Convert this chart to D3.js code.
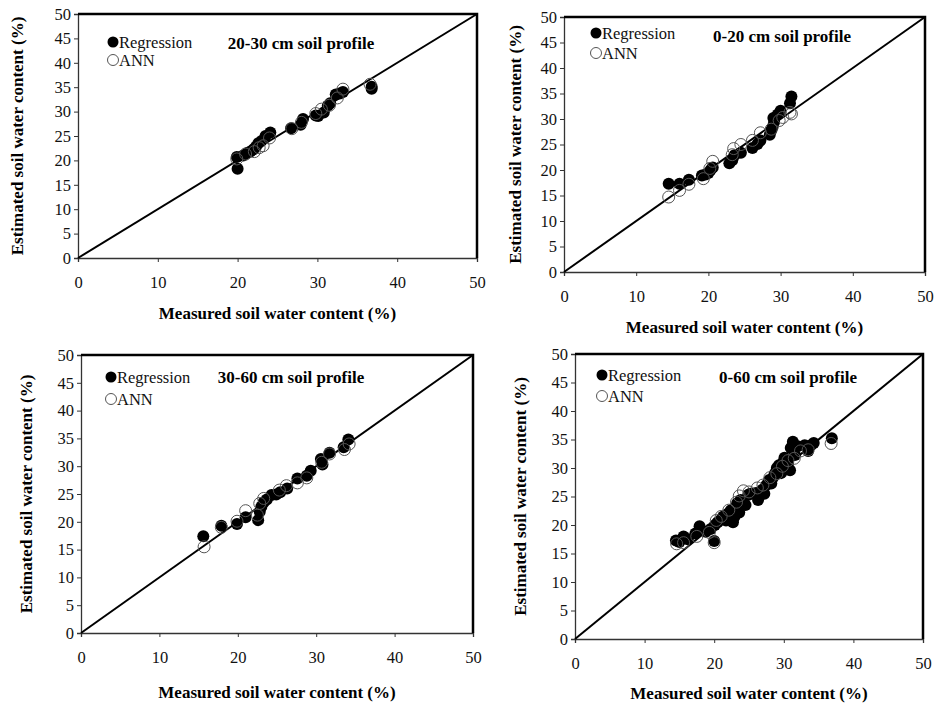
<!DOCTYPE html>
<html>
<head>
<meta charset="utf-8">
<script src="https://cdn.jsdelivr.net/npm/d3@7"></script>
<style>
  body { margin: 0; background: #fff; }
  svg { display: block; font-family: 'Liberation Serif', 'Times New Roman', serif; }
</style>
</head>
<body>
<svg id="chart" width="936" height="704"></svg>
<script>
// axis ticks (same for every panel)
const xTicks = [0, 10, 20, 30, 40, 50];
const yTicks = [0, 5, 10, 15, 20, 25, 30, 35, 40, 45, 50];
const seriesNames = ['Regression', 'ANN'];

// [measured, estimated] pairs
const regression_20_30 = [[19.9,20.7],[20.0,18.3],[20.7,21.0],[21.2,21.5],[21.6,21.8],[22.0,22.3],[22.3,22.8],
  [22.6,23.5],[23.0,24.0],[23.5,25.0],[24.1,25.7],[26.7,26.6],[27.9,27.3],[28.2,28.5],[29.8,29.2],[30.1,29.1],
  [30.8,29.8],[31.3,31.2],[31.6,31.7],[32.3,33.5],[32.8,33.7],[33.2,34.0],[36.8,34.7],[36.8,35.1]];
const ann_20_30 = [[19.9,20.3],[21.0,21.3],[22.1,21.8],[22.7,22.6],[23.2,23.0],[24.0,24.6],[26.8,26.5],
  [28.0,27.8],[29.8,29.6],[30.5,30.5],[31.5,31.3],[32.5,32.8],[33.2,34.6],[36.6,35.6]];

const regression_0_20 = [[14.5,17.3],[16.0,17.3],[17.3,18.1],[19.1,18.9],[19.6,19.1],[20.0,19.4],[20.3,20.0],
  [20.6,20.5],[22.9,21.3],[23.3,21.9],[23.6,22.9],[24.5,23.4],[26.1,24.3],[26.8,25.1],[27.2,25.8],[28.5,26.9],
  [28.7,27.8],[28.9,28.5],[29.1,29.4],[29.0,30.2],[29.6,30.9],[30.0,31.6],[31.3,33.1],[31.5,34.4]];
const ann_0_20 = [[14.5,14.7],[16.0,16.0],[17.3,17.2],[19.3,18.3],[20.2,20.3],[20.6,21.7],[23.3,23.0],
  [23.5,24.2],[24.5,25.0],[26.1,25.8],[27.2,27.3],[28.7,28.0],[29.8,29.7],[30.3,30.3],[31.5,31.0],[31.3,31.3]];

const regression_30_60 = [[15.6,17.4],[17.9,19.3],[19.9,19.6],[21.0,20.8],[22.6,20.3],[22.8,21.8],[23.0,22.7],
  [23.3,23.5],[23.7,24.0],[24.3,24.8],[24.9,24.9],[25.4,25.3],[26.3,26.0],[27.6,27.8],[28.8,28.3],[29.3,29.2],
  [30.6,31.3],[30.8,30.3],[31.7,32.4],[33.5,33.4],[34.1,34.8]];
const ann_30_60 = [[15.7,15.5],[17.9,19.0],[19.9,20.1],[21.0,22.0],[22.5,21.2],[22.8,23.3],[23.3,24.2],
  [25.3,25.7],[26.2,26.5],[27.6,27.0],[28.8,27.9],[30.7,30.7],[31.7,32.2],[33.6,33.0],[34.2,34.0]];

const regression_0_60 = [[14.5,17.3],[15.0,17.0],[15.6,18.0],[16.2,17.5],[17.3,18.5],[17.9,19.8],[18.8,18.8],
  [19.5,19.3],[20.0,17.2],[20.1,20.0],[20.5,20.5],[21.0,21.0],[21.3,21.5],[21.7,20.8],[22.0,22.0],[22.4,22.6],
  [22.7,20.5],[22.9,21.4],[23.0,23.0],[23.3,23.8],[23.6,22.2],[23.8,24.4],[24.2,24.0],[24.5,23.5],[24.9,25.3],
  [25.2,25.5],[26.0,25.6],[26.3,24.4],[26.6,25.3],[26.9,26.2],[27.2,25.5],[27.5,27.0],[27.9,27.9],[28.2,27.3],
  [28.5,28.4],[28.7,29.0],[29.0,30.0],[29.3,30.5],[29.6,29.1],[29.9,31.0],[30.1,31.8],[30.3,30.0],[30.6,30.8],
  [30.9,29.6],[31.0,33.5],[31.3,34.6],[31.6,32.3],[32.0,33.8],[33.0,34.0],[33.5,33.0],[33.9,34.0],[34.3,34.4],
  [36.9,35.2]];
const ann_0_60 = [[14.6,16.7],[15.6,16.9],[17.5,18.0],[19.3,18.7],[20.0,16.9],[20.3,20.8],[21.0,21.5],
  [22.1,22.6],[23.2,24.0],[23.6,25.1],[24.2,26.0],[25.0,25.8],[26.2,26.5],[27.0,27.0],[28.0,28.3],[29.0,29.0],
  [29.8,30.3],[30.6,31.3],[31.5,31.7],[32.4,33.0],[33.5,33.2],[36.8,34.3]];

// panel layout (pixel boxes of each plot area)
const panels = [
  {title: '20-30 cm soil profile', reg: regression_20_30, ann: ann_20_30,
   l: 78, t: 14, r: 477, b: 258, titleX: 301, titleY: 43, legX: 119, legY: 42, legGap: 18, xtY: 313, ytX: 17},
  {title: '0-20 cm soil profile', reg: regression_0_20, ann: ann_0_20,
   l: 564, t: 17, r: 925, b: 272, titleX: 782, titleY: 36, legX: 602, legY: 33, legGap: 20, xtY: 327, ytX: 515},
  {title: '30-60 cm soil profile', reg: regression_30_60, ann: ann_30_60,
   l: 81, t: 355, r: 473, b: 633, titleX: 291, titleY: 377, legX: 117, legY: 377, legGap: 22, xtY: 692, ytX: 26},
  {title: '0-60 cm soil profile', reg: regression_0_60, ann: ann_0_60,
   l: 575, t: 354, r: 923, b: 639, titleX: 788, titleY: 377, legX: 608, legY: 375, legGap: 21, xtY: 693, ytX: 520},
];

const svg = d3.select('#chart');

panels.forEach(p => {
  const g = svg.append('g');
  const x = d3.scaleLinear().domain([0, 50]).range([p.l, p.r]);
  const y = d3.scaleLinear().domain([0, 50]).range([p.b, p.t]);

  // axes
  const xAxis = g.append('g')
    .attr('transform', `translate(0,${p.b})`)
    .call(d3.axisBottom(x).tickValues(xTicks).tickSize(4).tickPadding(14).tickFormat(d3.format('d')));
  const yAxis = g.append('g')
    .attr('transform', `translate(${p.l},0)`)
    .call(d3.axisLeft(y).tickValues(yTicks).tickSize(4).tickPadding(3).tickFormat(d3.format('d')));
  [xAxis, yAxis].forEach(a => {
    a.selectAll('text').style('font-size', '16.5px').style('font-family', 'Liberation Serif').attr('fill', '#111');
    a.selectAll('line').attr('stroke', '#333');
    a.select('.domain').attr('stroke', '#333').attr('stroke-width', 1.3);
  });

  // plot border (top and right heavier)
  g.append('path')
    .attr('d', `M${p.l},${p.t}H${p.r}V${p.b}`)
    .attr('fill', 'none').attr('stroke', '#000').attr('stroke-width', 2.5);

  // 1:1 line
  g.append('line')
    .attr('x1', x(0)).attr('y1', y(0)).attr('x2', x(50)).attr('y2', y(50))
    .attr('stroke', '#000').attr('stroke-width', 2);

  // regression points (filled)
  g.append('g').selectAll('circle').data(p.reg).enter().append('circle')
    .attr('cx', d => x(d[0])).attr('cy', d => y(d[1])).attr('r', 6)
    .attr('fill', '#000');
  // ANN points (open)
  g.append('g').selectAll('circle').data(p.ann).enter().append('circle')
    .attr('cx', d => x(d[0])).attr('cy', d => y(d[1])).attr('r', 6)
    .attr('fill', 'none').attr('stroke', '#555').attr('stroke-width', 1);

  // legend
  seriesNames.forEach((name, i) => {
    const ly = p.legY + i * p.legGap;
    g.append('circle').attr('cx', p.legX - 6).attr('cy', ly).attr('r', 5.5)
      .attr('fill', i === 0 ? '#000' : 'none').attr('stroke', i === 0 ? 'none' : '#555');
    g.append('text').attr('x', p.legX).attr('y', ly).attr('dy', '0.35em')
      .style('font-size', '16.5px').attr('fill', '#111').text(name);
  });

  // panel title
  g.append('text').attr('x', p.titleX).attr('y', p.titleY).attr('dy', '0.35em')
    .attr('text-anchor', 'middle').style('font-size', '17px').style('font-weight', 'bold')
    .text(p.title);

  // axis titles
  g.append('text').attr('x', (p.l + p.r) / 2).attr('y', p.xtY).attr('dy', '0.35em')
    .attr('text-anchor', 'middle').style('font-size', '17px').style('font-weight', 'bold')
    .text('Measured soil water content (%)');
  g.append('text').attr('transform', `translate(${p.ytX},${(p.t + p.b) / 2}) rotate(-90)`)
    .attr('dy', '0.35em').attr('text-anchor', 'middle')
    .style('font-size', '17px').style('font-weight', 'bold')
    .text('Estimated soil water content (%)');
});
</script>
</body>
</html>
